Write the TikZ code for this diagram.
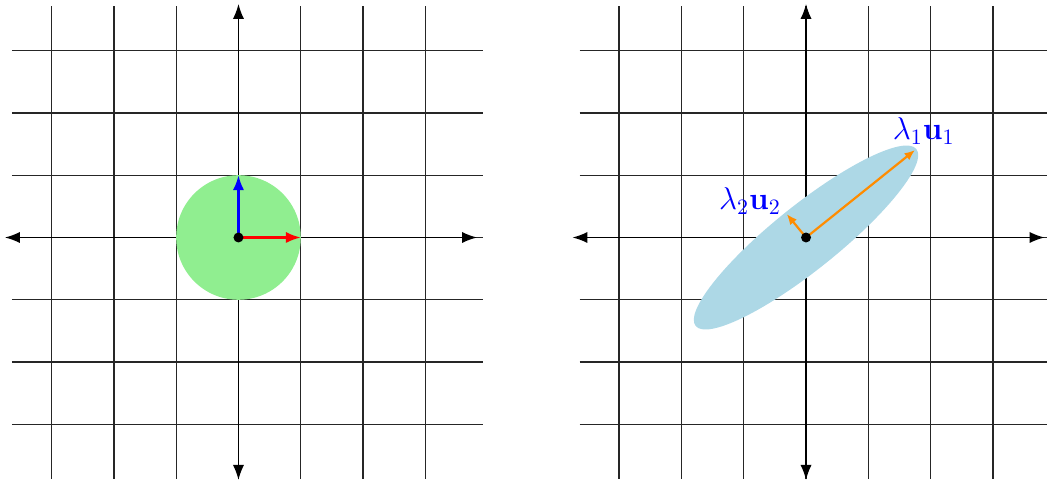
\documentclass[tikz,border=0pt]{standalone}
\usepackage{amsmath,amssymb}
\usepackage{tikz}
\usetikzlibrary{arrows.meta,positioning}
\definecolor{discgreen}{RGB}{144,238,144}
\definecolor{ellblue}{RGB}{173,216,230}
\definecolor{vecorange}{RGB}{255,140,0}

\begin{document}
\begin{tikzpicture}[
  >={Latex[length=2.4mm,width=1.8mm]},
  gridline/.style={black!85, line width=0.6pt},
  axis/.style={<->, line width=0.6pt},
  vec/.style={->, line width=1pt},
  eig/.style={-{Latex[length=1.7mm,width=1.4mm]}, vecorange, line width=1pt},
  dot/.style={circle, fill=black, inner sep=0pt, minimum size=1.6mm},
  lbl/.style={text=blue, font=\Large, inner sep=1pt}
]
\useasboundingbox (-3.828,-3.925) rectangle (12.978,3.812);
% grids and axes of both panels
\foreach \ox in {0,9.11} {
  \foreach \k in {-3,...,3} {
    \draw[gridline] (\ox-3.636,\k) -- (\ox+3.925,\k);
    \draw[gridline] (\ox+\k,-3.876) -- (\ox+\k,3.716);
  }
  \coordinate (xa) at (\ox-3.748,0);
  \coordinate (xb) at (\ox+3.828,0);
  \coordinate (ya) at (\ox,-3.89);
  \coordinate (yb) at (\ox,3.748);
  \draw[axis] (xa) -- (xb);
  \draw[axis] (ya) -- (yb);
}
% left panel: unit disc
\coordinate (o1) at (0,0);
\fill[discgreen] (o1) circle (1);
\coordinate (e1) at (1,0);
\coordinate (e2) at (0,1);
\draw[vec, red] (o1) -- (e1);
\draw[vec, blue] (o1) -- (e2);
\node[dot] (c1) at (o1) {};
% right panel: transformed disc
\coordinate (o2) at (9.11,0);
\fill[ellblue, rotate around={38.7:(o2)}] (o2) ellipse [x radius=2.27, y radius=0.52];
\coordinate (u1) at (10.86,1.404);
\coordinate (u2) at (8.80,0.377);
\draw[eig] (o2) -- (u1);
\draw[eig] (o2) -- (u2);
\node[dot] (c2) at (o2) {};
\node[lbl, above=0.5mm of u1, xshift=1.4mm] (l1) {$\lambda_1\mathbf{u}_1$};
\node[lbl, above left=-0.5mm and 0.5mm of u2] (l2) {$\lambda_2\mathbf{u}_2$};
\end{tikzpicture}
\end{document}
